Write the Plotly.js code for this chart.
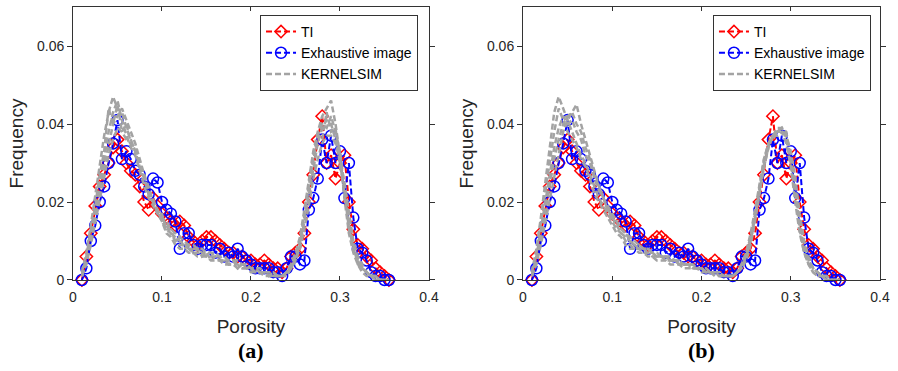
<!DOCTYPE html>
<html>
<head>
<meta charset="utf-8">
<script src="https://cdn.plot.ly/plotly-3.0.1.min.js"></script>
<style>
  html, body { margin: 0; padding: 0; background: #fff; }
  #chart { width: 898px; height: 371px; }
</style>
</head>
<body>
<div id="chart"></div>
<script>
// Porosity bin centres shared by every histogram
const porosity = [
  0.010,0.015,0.020,0.025,0.030,0.035,0.040,0.045,0.050,0.055,
  0.060,0.065,0.070,0.075,0.080,0.085,0.090,0.095,0.100,0.105,
  0.110,0.115,0.120,0.125,0.130,0.135,0.140,0.145,0.150,0.155,
  0.160,0.165,0.170,0.175,0.180,0.185,0.190,0.195,0.200,0.205,
  0.210,0.215,0.220,0.225,0.230,0.235,0.240,0.245,0.250,0.255,
  0.260,0.265,0.270,0.275,0.280,0.285,0.290,0.295,0.300,0.305,
  0.310,0.315,0.320,0.325,0.330,0.335,0.340,0.345,0.350,0.355
];

// Training image porosity frequency
const freqTI = [
  0.000,0.006,0.012,0.019,0.024,0.027,0.030,0.034,0.036,0.033,
  0.030,0.028,0.027,0.024,0.020,0.018,0.021,0.019,0.017,0.016,
  0.015,0.014,0.015,0.014,0.011,0.010,0.009,0.010,0.011,0.011,
  0.010,0.009,0.008,0.007,0.007,0.006,0.006,0.005,0.005,0.004,
  0.004,0.005,0.004,0.003,0.003,0.002,0.003,0.006,0.007,0.008,
  0.012,0.020,0.027,0.036,0.042,0.030,0.032,0.026,0.030,0.032,
  0.020,0.013,0.009,0.008,0.006,0.005,0.003,0.002,0.001,0.000
];

// Exhaustive image porosity frequency
const freqExhaustive = [
  0.000,0.003,0.010,0.014,0.020,0.024,0.030,0.035,0.041,0.031,
  0.033,0.031,0.028,0.027,0.024,0.022,0.026,0.025,0.020,0.018,
  0.017,0.015,0.008,0.012,0.012,0.009,0.008,0.009,0.009,0.009,
  0.007,0.008,0.006,0.007,0.006,0.008,0.006,0.005,0.004,0.003,
  0.003,0.003,0.003,0.002,0.002,0.001,0.003,0.006,0.006,0.004,
  0.005,0.018,0.021,0.026,0.036,0.030,0.037,0.030,0.033,0.021,
  0.030,0.016,0.008,0.007,0.005,0.002,0.001,0.001,0.000,0.000
];

// KERNELSIM realizations, case (a)
const kernelA1 = [
  0.001,0.005,0.011,0.018,0.025,0.031,0.038,0.043,0.046,0.041,
  0.037,0.034,0.032,0.028,0.024,0.021,0.019,0.017,0.016,0.014,
  0.012,0.011,0.010,0.009,0.009,0.008,0.008,0.007,0.007,0.007,
  0.006,0.006,0.005,0.005,0.005,0.004,0.004,0.004,0.003,0.003,
  0.002,0.002,0.002,0.001,0.001,0.001,0.002,0.003,0.005,0.009,
  0.015,0.022,0.029,0.035,0.039,0.041,0.040,0.036,0.030,0.022,
  0.014,0.008,0.005,0.003,0.002,0.001,0.001,0.000,0.000,0.000
];
const kernelA2 = [
  0.002,0.007,0.014,0.022,0.030,0.037,0.043,0.047,0.044,0.043,
  0.039,0.036,0.033,0.029,0.026,0.022,0.020,0.018,0.015,0.013,
  0.012,0.010,0.009,0.009,0.008,0.007,0.007,0.007,0.006,0.006,
  0.006,0.005,0.005,0.004,0.004,0.004,0.003,0.003,0.003,0.002,
  0.002,0.002,0.001,0.001,0.001,0.001,0.002,0.004,0.007,0.011,
  0.018,0.026,0.033,0.038,0.042,0.044,0.046,0.040,0.032,0.021,
  0.012,0.007,0.004,0.002,0.001,0.001,0.000,0.000,0.000,0.000
];
const kernelA3 = [
  0.001,0.004,0.009,0.015,0.021,0.027,0.032,0.036,0.039,0.038,
  0.036,0.035,0.033,0.030,0.026,0.023,0.020,0.018,0.016,0.015,
  0.013,0.012,0.011,0.010,0.009,0.009,0.008,0.008,0.007,0.007,
  0.007,0.006,0.006,0.005,0.005,0.005,0.004,0.004,0.003,0.003,
  0.003,0.002,0.002,0.002,0.001,0.001,0.001,0.003,0.005,0.008,
  0.013,0.019,0.026,0.031,0.035,0.037,0.037,0.035,0.031,0.025,
  0.017,0.010,0.006,0.004,0.002,0.001,0.001,0.000,0.000,0.000
];
const kernelA4 = [
  0.001,0.006,0.013,0.019,0.027,0.033,0.044,0.040,0.045,0.038,
  0.040,0.035,0.034,0.029,0.027,0.022,0.021,0.017,0.017,0.013,
  0.013,0.010,0.011,0.008,0.009,0.007,0.008,0.006,0.007,0.005,
  0.006,0.005,0.005,0.004,0.005,0.003,0.004,0.003,0.003,0.002,
  0.002,0.002,0.001,0.002,0.001,0.001,0.002,0.004,0.006,0.010,
  0.016,0.024,0.030,0.037,0.036,0.043,0.038,0.039,0.029,0.024,
  0.013,0.009,0.004,0.003,0.002,0.001,0.001,0.000,0.000,0.000
];
const kernelA5 = [
  0.001,0.005,0.010,0.017,0.023,0.029,0.035,0.040,0.042,0.044,
  0.041,0.038,0.035,0.031,0.027,0.024,0.020,0.017,0.015,0.012,
  0.011,0.009,0.008,0.008,0.007,0.007,0.006,0.006,0.006,0.005,
  0.005,0.005,0.004,0.004,0.004,0.003,0.003,0.003,0.002,0.002,
  0.002,0.001,0.001,0.001,0.001,0.001,0.002,0.003,0.006,0.010,
  0.017,0.025,0.032,0.037,0.040,0.039,0.042,0.038,0.033,0.024,
  0.015,0.009,0.005,0.003,0.002,0.001,0.000,0.000,0.000,0.000
];

// KERNELSIM realizations, case (b)
const kernelB1 = [
  0.002,0.008,0.016,0.025,0.034,0.043,0.047,0.044,0.041,0.038,
  0.035,0.032,0.030,0.027,0.024,0.021,0.019,0.017,0.015,0.013,
  0.012,0.010,0.009,0.008,0.008,0.007,0.007,0.006,0.006,0.006,
  0.005,0.005,0.005,0.004,0.004,0.004,0.003,0.003,0.003,0.002,
  0.002,0.002,0.001,0.001,0.001,0.001,0.002,0.004,0.007,0.011,
  0.017,0.024,0.030,0.035,0.037,0.038,0.039,0.036,0.030,0.022,
  0.013,0.007,0.004,0.002,0.001,0.001,0.000,0.000,0.000,0.000
];
const kernelB2 = [
  0.001,0.004,0.009,0.015,0.021,0.027,0.033,0.038,0.041,0.043,
  0.045,0.040,0.036,0.032,0.028,0.024,0.021,0.018,0.016,0.014,
  0.012,0.011,0.010,0.009,0.008,0.008,0.007,0.007,0.006,0.006,
  0.006,0.005,0.005,0.005,0.004,0.004,0.004,0.003,0.003,0.002,
  0.002,0.002,0.002,0.001,0.001,0.001,0.002,0.003,0.006,0.010,
  0.016,0.023,0.029,0.034,0.037,0.038,0.038,0.037,0.032,0.024,
  0.015,0.009,0.005,0.003,0.002,0.001,0.001,0.000,0.000,0.000
];
const kernelB3 = [
  0.001,0.006,0.013,0.020,0.028,0.034,0.039,0.042,0.040,0.041,
  0.038,0.036,0.032,0.030,0.026,0.023,0.021,0.018,0.016,0.015,
  0.013,0.012,0.010,0.009,0.009,0.008,0.008,0.007,0.006,0.006,
  0.006,0.005,0.005,0.004,0.004,0.004,0.003,0.003,0.003,0.002,
  0.002,0.002,0.001,0.001,0.001,0.001,0.002,0.004,0.006,0.010,
  0.016,0.024,0.031,0.035,0.036,0.038,0.039,0.038,0.031,0.023,
  0.014,0.008,0.005,0.003,0.002,0.001,0.000,0.000,0.000,0.000
];
const kernelB4 = [
  0.002,0.007,0.015,0.023,0.031,0.038,0.044,0.041,0.038,0.036,
  0.034,0.031,0.029,0.026,0.022,0.020,0.018,0.016,0.014,0.012,
  0.011,0.009,0.008,0.008,0.007,0.007,0.006,0.006,0.005,0.005,
  0.005,0.004,0.004,0.004,0.003,0.003,0.003,0.003,0.002,0.002,
  0.002,0.001,0.001,0.001,0.001,0.001,0.002,0.004,0.007,0.012,
  0.018,0.025,0.031,0.035,0.037,0.037,0.038,0.035,0.029,0.020,
  0.012,0.007,0.004,0.002,0.001,0.001,0.000,0.000,0.000,0.000
];
const kernelB5 = [
  0.001,0.005,0.011,0.018,0.025,0.031,0.036,0.040,0.042,0.043,
  0.040,0.038,0.034,0.031,0.027,0.024,0.021,0.019,0.017,0.015,
  0.013,0.012,0.011,0.010,0.009,0.008,0.008,0.007,0.007,0.006,
  0.006,0.006,0.005,0.005,0.004,0.004,0.004,0.003,0.003,0.003,
  0.002,0.002,0.002,0.001,0.001,0.001,0.002,0.003,0.005,0.009,
  0.015,0.022,0.029,0.034,0.037,0.039,0.039,0.037,0.033,0.026,
  0.017,0.010,0.006,0.003,0.002,0.001,0.001,0.000,0.000,0.000
];

const xTicks = [0, 0.1, 0.2, 0.3, 0.4];
const xTickText = ['0', '0.1', '0.2', '0.3', '0.4'];
const yTicks = [0, 0.02, 0.04, 0.06];
const yTickText = ['0', '0.02', '0.04', '0.06'];
const panelLabels = ['(a)', '(b)'];
const kernelSets = [
  [kernelA1, kernelA2, kernelA3, kernelA4, kernelA5],
  [kernelB1, kernelB2, kernelB3, kernelB4, kernelB5]
];

const RED = '#ff0000', BLUE = '#0000ff', GREY = '#a3a3a3';
const DASH = '6px,3px';
const SANS = 'Arial, "Liberation Sans", sans-serif';

const traces = [];
kernelSets.forEach((set, p) => {
  const xa = p === 0 ? 'x' : 'x2';
  const ya = p === 0 ? 'y' : 'y2';
  const lg = p === 0 ? 'legend' : 'legend2';
  traces.push({
    x: porosity, y: freqTI, xaxis: xa, yaxis: ya, legend: lg,
    name: 'TI', type: 'scatter', mode: 'lines+markers', cliponaxis: false,
    line: { color: RED, width: 2, dash: DASH },
    marker: { symbol: 'diamond-open', size: 9.5, color: RED, line: { width: 1.5, color: RED } }
  });
  traces.push({
    x: porosity, y: freqExhaustive, xaxis: xa, yaxis: ya, legend: lg,
    name: 'Exhaustive image', type: 'scatter', mode: 'lines+markers', cliponaxis: false,
    line: { color: BLUE, width: 2, dash: DASH },
    marker: { symbol: 'circle-open', size: 11, color: BLUE, line: { width: 1.5, color: BLUE } }
  });
  set.forEach((series, k) => {
    traces.push({
      x: porosity, y: series, xaxis: xa, yaxis: ya, legend: lg,
      name: 'KERNELSIM', showlegend: k === 0, type: 'scatter', mode: 'lines',
      cliponaxis: false,
      line: { color: GREY, width: 2.5, dash: DASH }
    });
  });
});

const axisCommon = {
  showgrid: false, zeroline: false, showline: true, mirror: 'ticks',
  linecolor: '#333333', linewidth: 1, tickcolor: '#333333',
  tickfont: { family: SANS, size: 14, color: '#262626' }
};
const xAxis = (domain, anchor) => Object.assign({}, axisCommon, {
  domain: domain, anchor: anchor, range: [0, 0.4], tickmode: 'array',
  tickvals: xTicks, ticktext: xTickText, ticks: 'inside', ticklen: 4,
  ticklabelstandoff: 4,
  title: { text: 'Porosity', standoff: 15, font: { family: SANS, size: 19, color: '#262626' } }
});
const yAxis = (anchor) => Object.assign({}, axisCommon, {
  domain: [0.2453, 0.9811], anchor: anchor, range: [0, 0.07], tickmode: 'array',
  tickvals: yTicks, ticktext: yTickText, ticks: 'outside', ticklen: 5,
  title: { text: 'Frequency', standoff: 8, font: { family: SANS, size: 19, color: '#262626' } }
});
const legendCommon = {
  bgcolor: '#ffffff', bordercolor: '#333333', borderwidth: 1,
  font: { family: SANS, size: 14, color: '#000000' },
  xanchor: 'right', yanchor: 'top', y: 0.9596, tracegroupgap: 0, itemwidth: 30
};

const layout = {
  width: 898, height: 371,
  margin: { l: 0, r: 0, t: 0, b: 0 },
  paper_bgcolor: '#ffffff', plot_bgcolor: '#ffffff',
  xaxis: xAxis([0.0813, 0.4777], 'y'),
  yaxis: yAxis('x'),
  xaxis2: xAxis([0.5824, 0.98], 'y2'),
  yaxis2: yAxis('x2'),
  legend: Object.assign({}, legendCommon, { x: 0.4655 }),
  legend2: Object.assign({}, legendCommon, { x: 0.9699 }),
  annotations: panelLabels.map((t, i) => ({
    text: '<b>' + t + '</b>', showarrow: false,
    xref: 'paper', yref: 'paper',
    x: i === 0 ? 0.2795 : 0.7812, y: 0.056, xanchor: 'center', yanchor: 'middle',
    font: { family: '"Times New Roman", "Liberation Serif", serif', size: 22, color: '#000000' }
  })),
  showlegend: true
};

Plotly.newPlot('chart', traces, layout, { displayModeBar: false, staticPlot: true });
</script>
</body>
</html>
